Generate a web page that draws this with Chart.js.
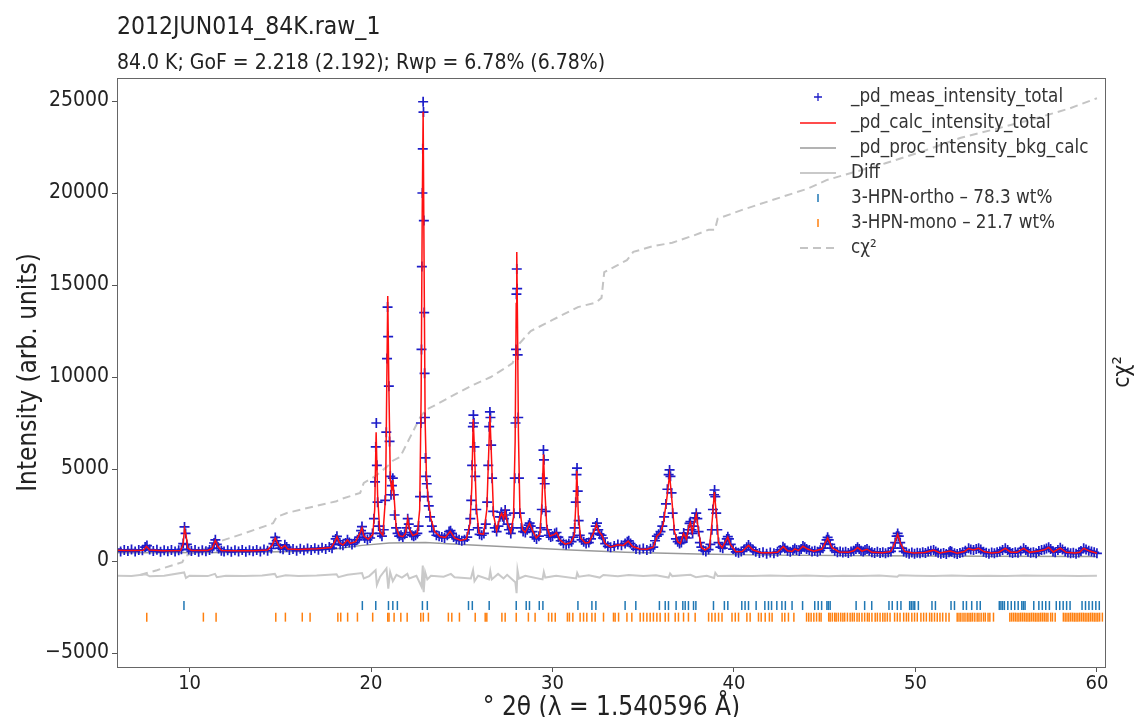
<!DOCTYPE html>
<html>
<head>
<meta charset="utf-8">
<script src="https://cdn.jsdelivr.net/npm/chart.js@4.4.1/dist/chart.umd.min.js"></script>
<style>
  html, body { margin: 0; padding: 0; background: #fff; }
  #wrap { width: 1134px; height: 717px; }
</style>
</head>
<body>
<div id="wrap"><canvas id="mycanvas" width="1134" height="717"></canvas></div>
<script>
var FONT = "'DejaVu Sans Condensed', 'DejaVu Sans', sans-serif";

var titleText = '2012JUN014_84K.raw_1';
var subtitleText = '84.0 K; GoF = 2.218 (2.192); Rwp = 6.78% (6.78%)';
var xTicks = [10, 20, 30, 40, 50, 60];
var yTicks = [-5000, 0, 5000, 10000, 15000, 20000, 25000];

// measured points [2theta, counts]
var measured = [
  [6.0,650],[6.2,520],[6.4,600],[6.6,540],[6.8,620],[7.0,520],[7.2,600],[7.4,580],[7.55,760],[7.65,840],
  [7.8,620],[8.0,540],[8.2,610],[8.4,500],[8.6,590],[8.8,530],[9.0,600],[9.2,520],[9.4,580],[9.55,640],
  [9.65,950],[9.72,1850],[9.78,1500],[9.85,900],[9.95,620],[10.1,540],[10.3,600],[10.5,510],[10.7,590],[10.9,530],
  [11.1,600],[11.25,700],[11.35,980],[11.42,1150],[11.5,900],[11.6,680],[11.75,560],[11.9,520],[12.1,590],[12.3,500],
  [12.5,580],[12.7,520],[12.9,600],[13.1,510],[13.3,590],[13.5,530],[13.7,600],[13.9,520],[14.1,620],[14.3,560],
  [14.5,680],[14.62,950],[14.72,1280],[14.8,1100],[14.9,850],[15.0,700],[15.15,640],[15.25,880],[15.35,760],[15.5,600],
  [15.7,650],[15.9,560],[16.1,660],[16.3,580],[16.5,680],[16.7,600],[16.9,700],[17.1,610],[17.3,720],[17.5,650],
  [17.7,760],[17.85,700],[17.95,900],[18.05,1200],[18.12,1340],[18.2,1100],[18.3,900],[18.45,860],[18.6,980],[18.7,1160],
  [18.8,1000],[18.95,900],[19.1,1000],[19.25,1150],[19.35,1300],[19.45,1650],[19.5,1870],[19.56,1500],[19.65,1250],[19.8,1150],
  [19.95,1250],[20.08,1500],[20.16,2300],[20.22,4300],[20.26,6200],[20.29,7500],[20.32,5200],[20.36,3200],[20.42,1900],[20.5,1500],
  [20.6,1350],[20.7,1700],[20.78,3300],[20.84,7000],[20.88,11000],[20.91,13800],[20.94,12200],[20.98,9500],[21.02,6500],[21.06,4600],
  [21.1,3600],[21.15,4100],[21.2,4500],[21.25,3600],[21.3,2500],[21.38,1800],[21.46,1500],[21.55,1350],[21.65,1400],[21.75,1300],
  [21.85,1450],[21.95,1800],[22.02,2300],[22.08,2000],[22.15,1550],[22.25,1400],[22.35,1350],[22.45,1400],[22.55,1500],[22.62,1900],
  [22.7,3500],[22.75,7500],[22.78,11500],[22.8,16000],[22.83,20000],[22.85,22400],[22.87,24960],[22.89,24400],[22.91,18500],[22.93,13500],
  [22.95,10200],[22.97,7800],[23.0,5600],[23.03,4600],[23.07,4200],[23.12,3500],[23.18,3000],[23.25,2400],[23.35,1900],[23.45,1600],
  [23.6,1400],[23.75,1350],[23.9,1300],[24.05,1250],[24.2,1400],[24.3,1600],[24.38,1650],[24.46,1500],[24.55,1300],[24.7,1200],
  [24.85,1150],[25.0,1100],[25.15,1150],[25.3,1300],[25.4,1700],[25.47,2300],[25.52,3300],[25.57,5200],[25.61,7300],[25.64,7930],
  [25.67,7500],[25.7,6200],[25.74,4600],[25.8,2800],[25.88,1800],[25.98,1450],[26.1,1400],[26.22,1500],[26.32,2000],[26.4,3200],
  [26.46,5200],[26.51,7300],[26.55,8100],[26.58,7800],[26.62,6300],[26.67,4500],[26.73,2700],[26.82,1800],[26.92,1600],[27.02,1900],
  [27.1,2400],[27.18,2650],[27.25,2400],[27.32,2300],[27.39,2770],[27.45,2500],[27.52,2000],[27.6,1700],[27.7,1500],[27.8,1800],
  [27.87,2600],[27.92,4500],[27.96,7500],[27.99,11500],[28.01,14500],[28.03,15870],[28.05,14800],[28.08,11200],[28.11,7800],[28.15,4500],
  [28.2,2600],[28.28,1800],[28.38,1600],[28.5,1550],[28.6,1700],[28.68,1950],[28.74,2060],[28.8,1900],[28.9,1600],[29.0,1300],
  [29.12,1200],[29.25,1350],[29.35,1800],[29.41,2800],[29.46,4500],[29.5,6030],[29.53,5500],[29.57,4200],[29.62,2700],[29.7,1700],
  [29.8,1400],[29.9,1300],[30.0,1350],[30.12,1500],[30.22,1550],[30.32,1300],[30.45,1100],[30.6,950],[30.75,900],[30.9,950],
  [31.05,1050],[31.15,1300],[31.22,1800],[31.28,3200],[31.32,4700],[31.35,5050],[31.39,3800],[31.44,2200],[31.5,1400],[31.6,1150],
  [31.72,1050],[31.85,950],[32.0,1000],[32.12,1200],[32.25,1500],[32.38,1900],[32.45,2060],[32.52,1700],[32.6,1450],[32.7,1400],
  [32.78,1250],[32.9,950],[33.05,800],[33.2,750],[33.4,820],[33.6,900],[33.8,850],[34.0,950],[34.12,1050],[34.2,1100],
  [34.3,950],[34.45,800],[34.6,650],[34.8,620],[35.0,680],[35.2,600],[35.4,660],[35.55,760],[35.65,1100],[35.75,1350],
  [35.85,1450],[35.95,1600],[36.05,1900],[36.15,2400],[36.25,3100],[36.33,3900],[36.4,4700],[36.45,4950],[36.5,4600],[36.56,3700],
  [36.62,2600],[36.7,1700],[36.8,1200],[36.9,1050],[37.0,950],[37.1,1000],[37.18,1300],[37.23,1520],[37.3,1300],[37.4,1250],
  [37.48,1700],[37.55,2050],[37.6,2140],[37.66,1700],[37.72,1500],[37.78,1900],[37.85,2350],[37.92,2600],[37.98,2300],[38.05,1600],
  [38.12,1000],[38.2,750],[38.3,580],[38.45,520],[38.6,620],[38.7,900],[38.78,1700],[38.84,2800],[38.9,3600],[38.93,3860],
  [38.97,3500],[39.02,2600],[39.08,1700],[39.15,1000],[39.25,750],[39.38,700],[39.5,900],[39.6,1200],[39.66,1320],[39.72,1200],
  [39.82,900],[39.95,650],[40.1,500],[40.25,450],[40.4,520],[40.55,600],[40.7,750],[40.8,870],[40.9,750],[41.05,600],
  [41.2,500],[41.4,430],[41.6,470],[41.8,400],[42.0,460],[42.2,420],[42.4,500],[42.55,600],[42.7,780],[42.8,700],
  [42.95,560],[43.1,500],[43.25,600],[43.35,680],[43.45,600],[43.6,550],[43.7,650],[43.8,815],[43.9,750],[44.0,650],
  [44.15,600],[44.3,520],[44.45,560],[44.6,500],[44.75,580],[44.9,700],[45.02,950],[45.1,1150],[45.16,1290],[45.22,1150],
  [45.3,900],[45.4,700],[45.55,560],[45.7,480],[45.85,520],[46.0,460],[46.15,500],[46.3,440],[46.45,520],[46.6,560],
  [46.72,650],[46.81,745],[46.9,650],[47.0,560],[47.12,520],[47.22,600],[47.33,650],[47.45,560],[47.6,480],[47.75,440],
  [47.9,500],[48.05,430],[48.2,480],[48.35,420],[48.5,480],[48.65,520],[48.78,700],[48.88,1000],[48.96,1350],[49.02,1500],
  [49.08,1350],[49.16,1000],[49.25,700],[49.35,520],[49.5,450],[49.65,400],[49.8,460],[49.95,400],[50.1,450],[50.25,420],
  [50.4,480],[50.55,430],[50.7,520],[50.85,560],[51.0,600],[51.12,520],[51.25,450],[51.4,400],[51.55,430],[51.7,380],
  [51.85,480],[51.92,550],[52.0,500],[52.15,420],[52.3,380],[52.45,440],[52.6,480],[52.75,560],[52.93,700],[53.05,620],
  [53.2,600],[53.35,650],[53.48,700],[53.6,620],[53.75,500],[53.9,450],[54.05,400],[54.2,460],[54.35,420],[54.5,480],
  [54.65,520],[54.8,600],[54.95,700],[55.08,600],[55.2,480],[55.35,430],[55.5,480],[55.65,450],[55.8,560],[55.96,700],
  [56.08,600],[56.2,500],[56.35,450],[56.5,480],[56.65,420],[56.8,540],[56.95,600],[57.1,620],[57.22,680],[57.34,750],
  [57.45,650],[57.58,520],[57.7,480],[57.85,600],[57.98,720],[58.1,620],[58.25,520],[58.4,460],[58.55,420],[58.7,450],
  [58.85,400],[59.0,460],[59.12,550],[59.27,700],[59.4,620],[59.55,560],[59.7,520],[59.85,470],[60.0,420]
];

// calculated profile [2theta, counts]
var calculated = [
  [6.0,580],[6.5,570],[7.0,565],[7.45,590],[7.62,800],[7.8,600],[8.5,560],[9.5,565],[9.64,900],[9.72,1750],
  [9.8,1450],[9.9,700],[10.1,570],[11.0,570],[11.25,680],[11.42,1120],[11.55,800],[11.75,570],[12.5,555],[13.5,560],
  [14.3,600],[14.55,850],[14.72,1250],[14.88,900],[15.05,680],[15.25,850],[15.4,650],[16.0,620],[17.0,660],[17.8,730],
  [18.0,1050],[18.12,1320],[18.25,1000],[18.45,870],[18.7,1150],[18.85,960],[19.15,1050],[19.4,1550],[19.5,1800],[19.6,1350],
  [19.85,1180],[20.1,1450],[20.2,2800],[20.28,7000],[20.36,3600],[20.48,1600],[20.65,1400],[20.8,3500],[20.86,9000],[20.92,14400],
  [20.98,9600],[21.06,4500],[21.14,3800],[21.2,4400],[21.27,3500],[21.38,1850],[21.55,1380],[21.75,1320],[21.9,1500],[22.02,2300],
  [22.12,1700],[22.3,1380],[22.55,1500],[22.68,2800],[22.76,9000],[22.82,19000],[22.87,24420],[22.92,16500],[22.98,7600],[23.05,4700],
  [23.15,3300],[23.3,2300],[23.5,1600],[23.8,1330],[24.1,1280],[24.36,1620],[24.6,1260],[24.95,1120],[25.25,1200],[25.45,2000],
  [25.55,4000],[25.63,7700],[25.7,6000],[25.8,2900],[25.95,1500],[26.2,1450],[26.38,2800],[26.47,5500],[26.55,7900],[26.63,5800],
  [26.75,2500],[26.92,1650],[27.1,2400],[27.2,2600],[27.3,2300],[27.39,2700],[27.5,2100],[27.7,1550],[27.85,2400],[27.94,6500],
  [28.0,14000],[28.03,16800],[28.07,13000],[28.12,7000],[28.2,2800],[28.35,1700],[28.5,1550],[28.73,2050],[28.9,1650],[29.1,1250],
  [29.3,1450],[29.42,3200],[29.5,5800],[29.57,4000],[29.68,1900],[29.85,1350],[30.1,1450],[30.22,1550],[30.4,1150],[30.7,920],
  [31.0,1000],[31.2,1400],[31.28,3000],[31.34,4900],[31.42,2500],[31.55,1250],[31.8,980],[32.0,1000],[32.25,1500],[32.42,2000],
  [32.55,1600],[32.72,1400],[32.9,950],[33.2,760],[33.6,880],[33.9,850],[34.17,1080],[34.4,800],[34.8,650],[35.2,640],
  [35.55,750],[35.75,1350],[35.95,1550],[36.1,2000],[36.3,3400],[36.45,4700],[36.57,3400],[36.72,1600],[36.9,1050],[37.05,950],
  [37.22,1500],[37.38,1200],[37.52,1900],[37.6,2100],[37.7,1550],[37.83,2200],[37.92,2550],[38.05,1600],[38.2,750],[38.4,600],
  [38.65,750],[38.8,2200],[38.92,3750],[39.02,2600],[39.15,1000],[39.35,720],[39.55,1100],[39.66,1300],[39.8,900],[40.1,500],
  [40.45,520],[40.8,850],[41.05,600],[41.5,450],[42.0,450],[42.4,480],[42.72,780],[42.95,560],[43.2,520],[43.35,660],
  [43.55,560],[43.8,800],[44.05,650],[44.4,530],[44.85,650],[45.16,1250],[45.4,720],[45.8,490],[46.3,470],[46.6,560],
  [46.81,730],[47.05,540],[47.33,640],[47.6,470],[48.2,450],[48.65,520],[48.85,950],[49.02,1450],[49.18,950],[49.4,520],
  [49.9,430],[50.5,460],[51.0,590],[51.35,440],[51.92,540],[52.3,420],[52.7,520],[52.93,680],[53.2,600],[53.48,690],
  [53.8,500],[54.2,430],[54.6,480],[54.95,690],[55.25,480],[55.6,470],[55.96,690],[56.3,470],[56.8,540],[57.1,610],
  [57.34,740],[57.6,490],[57.98,700],[58.3,470],[58.8,430],[59.05,470],[59.27,690],[59.6,540],[60.0,420]
];

var background = [
  [6,450],[12,460],[16,520],[18,650],[19.5,850],[21,980],[23,1000],[25,900],[28,750],[31,600],
  [34,480],[38,380],[42,320],[48,280],[54,260],[60,240]
];

// obs - calc, shifted below zero
var difference = [
  [6.0,-800],[6.8,-820],[7.6,-720],[7.8,-830],[8.6,-800],[9.7,-620],[9.8,-920],[10.0,-800],[11.0,-820],[11.4,-700],
  [11.5,-880],[12,-800],[13,-820],[14,-790],[14.7,-700],[14.8,-880],[15.3,-780],[16,-810],[17,-790],[18.1,-720],
  [18.2,-880],[18.7,-750],[19.5,-650],[19.6,-950],[19.9,-820],[20.25,-500],[20.32,-1300],[20.5,-850],[20.85,-400],[20.95,-1500],
  [21.05,-600],[21.2,-1100],[21.4,-750],[21.7,-900],[22.0,-700],[22.1,-950],[22.5,-800],[22.78,-1400],[22.85,-250],[22.9,-1700],
  [22.98,-600],[23.1,-1000],[23.3,-800],[24.0,-850],[24.4,-700],[24.6,-880],[25.5,-950],[25.62,-500],[25.7,-1100],[25.9,-800],
  [26.5,-1000],[26.57,-550],[26.65,-1000],[27.0,-700],[27.3,-950],[27.5,-750],[27.95,-1150],[28.02,-1750],[28.07,-500],[28.15,-950],
  [28.5,-800],[29.45,-1000],[29.52,-600],[29.6,-900],[30.2,-800],[31.3,-950],[31.36,-650],[31.45,-850],[32.0,-780],[32.6,-900],
  [32.8,-760],[33.6,-830],[34.2,-760],[35,-820],[35.7,-780],[36.4,-900],[36.48,-680],[36.6,-820],[37.6,-750],[37.9,-880],
  [38.5,-800],[38.9,-920],[38.97,-640],[39.1,-820],[40,-800],[41,-820],[42,-790],[43,-810],[44,-790],[45.2,-830],
  [46,-800],[47,-810],[48,-790],[49.0,-850],[49.1,-770],[50,-800],[51,-815],[52,-790],[53,-810],[54,-795],
  [55,-810],[56,-790],[57,-805],[58,-795],[59,-810],[60,-800]
];

// reflection positions
var orthoTicks = [
  9.69,19.52,20.26,20.96,21.2,21.45,22.83,23.1,25.37,25.58,26.51,28.0,28.55,28.73,29.27,29.47,31.4,32.17,32.39,34.0,
  34.59,35.89,36.21,36.39,36.81,37.18,37.31,37.49,37.77,37.9,38.87,39.47,39.66,40.43,40.61,40.8,41.22,41.7,41.9,42.07,
  42.36,42.64,42.83,43.2,43.78,44.45,44.64,44.83,45.12,45.2,45.3,46.73,47.2,47.59,48.54,48.72,49.0,49.2,49.68,49.77,
  49.87,49.96,50.16,50.91,51.1,51.96,52.15,52.63,52.81,53.1,53.39,53.57,54.62,54.71,54.8,54.9,55.09,55.28,55.47,55.66,
  55.86,55.95,56.04,56.52,56.8,56.99,57.18,57.38,57.76,57.95,58.14,58.33,58.52,59.18,59.37,59.56,59.75,59.94,60.13
];
var monoTicks = [
  7.64,10.76,11.46,14.75,15.28,16.21,16.64,18.17,18.33,18.71,19.25,20.09,20.92,20.99,21.27,21.64,21.99,22.74,22.88,23.16,
  24.26,24.45,24.87,25.74,26.29,26.38,27.21,27.39,28.0,28.67,29.04,29.78,29.96,30.15,30.82,30.93,31.12,31.52,31.71,31.89,
  32.17,32.35,32.81,33.36,33.45,33.64,34.1,34.37,34.83,35.01,35.2,35.38,35.56,35.75,35.93,36.21,36.39,36.76,36.94,37.22,
  37.49,37.86,38.6,38.78,38.96,39.15,39.34,39.89,40.07,40.25,40.71,40.89,41.35,41.5,41.72,41.95,42.1,42.65,42.8,43.0,
  43.3,44.0,44.12,44.25,44.4,44.55,44.7,44.8,45.22,45.3,45.42,45.55,45.63,45.75,45.88,46.0,46.1,46.25,46.4,46.52,
  46.63,46.78,46.9,47.05,47.2,47.35,47.45,47.6,47.78,47.9,48.05,48.2,48.32,48.45,48.6,48.85,49.0,49.15,49.35,49.5,
  49.62,49.8,49.95,50.1,50.3,50.45,50.6,50.78,50.9,51.05,51.2,51.35,51.5,51.68,51.85,52.3,52.4,52.5,52.62,52.73,
  52.85,52.95,53.05,53.15,53.27,53.4,53.5,53.62,53.75,53.85,54.0,54.1,54.3,55.2,55.3,55.4,55.5,55.6,55.7,55.8,
  55.9,56.0,56.1,56.2,56.3,56.4,56.5,56.6,56.7,56.8,56.9,57.0,57.1,57.2,57.3,57.45,57.55,57.7,58.15,58.25,
  58.35,58.45,58.55,58.65,58.75,58.85,58.95,59.05,59.15,59.25,59.35,59.45,59.55,59.65,59.75,59.85,59.95,60.05,60.15,60.3
];
var orthoLevel = -2420;
var monoLevel = -3050;

// cumulative chi^2, drawn on the intensity scale
var cumChi2 = [
  [7.27,-760],[8.2,-500],[9.6,-60],[9.75,250],[9.95,350],[11.2,800],[11.45,1000],[13.0,1500],[14.6,2050],[14.8,2400],
  [15.4,2620],[17.0,3000],[18.1,3250],[18.3,3350],[19.4,3700],[19.6,4250],[20.3,4650],[20.9,5150],[21.2,5450],[21.6,5650],
  [22.7,7800],[23.0,8200],[23.4,8400],[24.7,9100],[25.7,9600],[26.6,10000],[27.8,10750],[28.0,11300],[28.2,11850],[28.8,12500],
  [30.0,13100],[31.4,13800],[32.4,14050],[32.7,14300],[32.85,15700],[34.1,16350],[34.45,16800],[35.5,17100],[36.6,17300],[37.8,17700],
  [38.6,18000],[38.95,18000],[39.1,18600],[40.5,19100],[41.9,19550],[44.1,20250],[45.1,20700],[46.5,21100],[48.3,21600],[50.5,22300],
  [52.5,23000],[54.5,23500],[56.8,24100],[58.5,24600],[60.0,25150]
];

var legendLabels = ['_pd_meas_intensity_total', '_pd_calc_intensity_total', '_pd_proc_intensity_bkg_calc',
  'Diff', '3-HPN-ortho \u2013 78.3 wt%', '3-HPN-mono \u2013 21.7 wt%', 'c\u03C7\u00B2'];

var BLUE = 'rgb(28,28,200)';
var RED = '#ff1010';
var BKG = '#9a9a9a';
var DIFF = '#c9c9c9';
var ORTHO = '#1f77b4';
var MONO = '#ff7f0e';
var CHI = '#c4c4c4';

var textPlugin = {
  id: 'textPlugin',
  afterDraw: function (chart) {
    var ctx = chart.ctx;
    var ca = chart.chartArea;
    ctx.save();
    // frame
    ctx.strokeStyle = '#666';
    ctx.lineWidth = 1;
    ctx.strokeRect(ca.left + 0.5, ca.top + 0.5, ca.right - ca.left - 1, ca.bottom - ca.top);

    ctx.fillStyle = '#222';
    ctx.textAlign = 'left';
    ctx.textBaseline = 'alphabetic';
    ctx.font = '24.5px ' + FONT;
    ctx.fillText(titleText, 117, 34);
    ctx.font = '21px ' + FONT;
    ctx.fillText(subtitleText, 117, 69);

    // right axis label
    ctx.save();
    ctx.translate(1123, 372);
    ctx.rotate(-Math.PI / 2);
    ctx.textAlign = 'center';
    ctx.textBaseline = 'middle';
    ctx.font = '23px ' + FONT;
    ctx.fillText('c\u03C7\u00B2', 0, 0);
    ctx.restore();

    // legend
    var rowY = [97, 123, 148, 173, 198, 223, 248];
    var x0 = 800, x1 = 836, xm = 818, xt = 851;
    ctx.font = '18.7px ' + FONT;
    ctx.textBaseline = 'middle';
    for (var i = 0; i < legendLabels.length; i++) {
      var y = rowY[i];
      ctx.setLineDash([]);
      ctx.beginPath();
      if (i === 0) {
        ctx.strokeStyle = BLUE; ctx.lineWidth = 1.3;
        ctx.moveTo(xm - 4, y); ctx.lineTo(xm + 4, y);
        ctx.moveTo(xm, y - 4); ctx.lineTo(xm, y + 4);
      } else if (i === 1 || i === 2 || i === 3) {
        ctx.strokeStyle = [RED, BKG, DIFF][i - 1];
        ctx.lineWidth = i === 3 ? 2 : 1.5;
        ctx.moveTo(x0, y); ctx.lineTo(x1, y);
      } else if (i === 4 || i === 5) {
        ctx.strokeStyle = i === 4 ? ORTHO : MONO; ctx.lineWidth = 1.5;
        ctx.moveTo(xm, y - 4); ctx.lineTo(xm, y + 4);
      } else {
        ctx.strokeStyle = CHI; ctx.lineWidth = 2;
        ctx.setLineDash([8, 5]);
        ctx.moveTo(x0, y); ctx.lineTo(x1, y);
      }
      ctx.stroke();
      ctx.fillStyle = '#333';
      ctx.fillText(legendLabels[i], xt, y);
    }
    ctx.restore();
  }
};

var ctx = document.getElementById('mycanvas');

var chart = new Chart(ctx, {
  type: 'line',
  data: {
    datasets: [
      {
        label: legendLabels[1], data: calculated, order: 1,
        borderColor: RED, borderWidth: 1.5, pointRadius: 0, tension: 0
      },
      {
        label: legendLabels[0], data: measured, order: 2, showLine: false,
        pointStyle: 'cross', pointRadius: 5, pointBorderWidth: 1.7,
        pointBorderColor: BLUE, borderColor: BLUE, backgroundColor: BLUE
      },
      {
        label: legendLabels[2], data: background, order: 3,
        borderColor: BKG, borderWidth: 1.5, pointRadius: 0
      },
      {
        label: legendLabels[3], data: difference, order: 4,
        borderColor: DIFF, borderWidth: 2, pointRadius: 0
      },
      {
        label: legendLabels[4], data: orthoTicks.map(function (t) { return {x: t, y: orthoLevel}; }), order: 5,
        showLine: false, pointStyle: 'line', rotation: 90, pointRadius: 4.5,
        pointBorderWidth: 1.5, pointBorderColor: ORTHO, borderColor: ORTHO
      },
      {
        label: legendLabels[5], data: monoTicks.map(function (t) { return {x: t, y: monoLevel}; }), order: 6,
        showLine: false, pointStyle: 'line', rotation: 90, pointRadius: 4.5,
        pointBorderWidth: 1.5, pointBorderColor: MONO, borderColor: MONO
      },
      {
        label: legendLabels[6], data: cumChi2, order: 7,
        borderColor: CHI, borderWidth: 2, borderDash: [8, 5], pointRadius: 0
      }
    ]
  },
  options: {
    responsive: false,
    animation: false,
    events: [],
    layout: { padding: { top: 78, right: 28, left: 0, bottom: 0 } },
    plugins: {
      legend: { display: false },
      title: { display: false },
      tooltip: { enabled: false }
    },
    scales: {
      x: {
        type: 'linear', min: 6, max: 60.5,
        afterBuildTicks: function (axis) { axis.ticks = xTicks.map(function (v) { return {value: v}; }); },
        afterFit: function (axis) { axis.height = 50; },
        border: { display: false },
        grid: { drawOnChartArea: false, drawTicks: true, tickLength: 5, color: '#555' },
        ticks: { color: '#222', font: { family: FONT, size: 20 }, padding: 0, maxRotation: 0 },
        title: {
          display: true, text: '\u00B0 2\u03B8 (\u03BB = 1.540596 \u00C5)', color: '#222',
          font: { family: FONT, size: 26, lineHeight: 1 }, padding: { top: -4, bottom: -4 }
        }
      },
      y: {
        type: 'linear', min: -5760, max: 26250,
        afterBuildTicks: function (axis) { axis.ticks = yTicks.map(function (v) { return {value: v}; }); },
        afterFit: function (axis) { axis.width = 117; },
        border: { display: false },
        grid: { drawOnChartArea: false, drawTicks: true, tickLength: 5, color: '#555' },
        ticks: {
          color: '#222', font: { family: FONT, size: 21 }, padding: 3,
          callback: function (v) { return v < 0 ? '\u2212' + Math.abs(v) : String(v); }
        },
        title: {
          display: true, text: 'Intensity (arb. units)', color: '#222',
          font: { family: FONT, size: 26, lineHeight: 1 }, padding: { top: 16, bottom: 0 }
        }
      }
    }
  },
  plugins: [textPlugin]
});
</script>
</body>
</html>
